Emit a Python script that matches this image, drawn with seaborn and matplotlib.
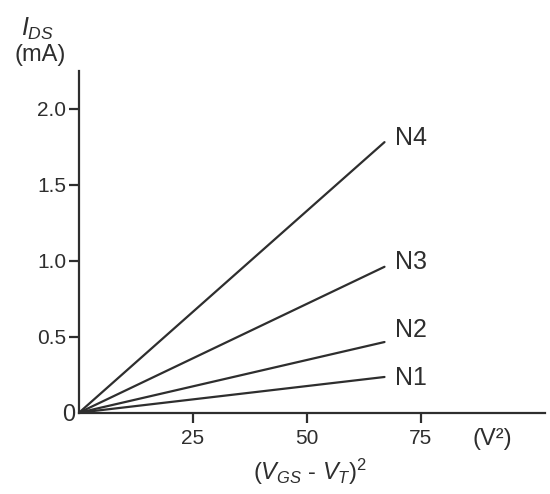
import pandas as pd
import matplotlib
matplotlib.use('Agg')
import matplotlib.pyplot as plt
import seaborn as sns

# device curves: I_DS vs (V_GS - V_T)^2, straight lines from origin
devices = ['N1', 'N2', 'N3', 'N4']
vov_sq = [0, 67]                      # (V^2)
ids_end = [0.235, 0.465, 0.96, 1.78]  # mA at the end of each line
x_ticks = [25, 50, 75]
y_ticks = [0, 0.5, 1.0, 1.5, 2.0]
y_ticklabels = ['0', '0.5', '1.0', '1.5', '2.0']

rows = []
for name, end in zip(devices, ids_end):
    rows.append({'device': name, 'vov2': vov_sq[0], 'ids': 0.0})
    rows.append({'device': name, 'vov2': vov_sq[1], 'ids': end})
df = pd.DataFrame(rows)

sns.set_style('ticks')
plt.rcParams['font.family'] = ['Liberation Sans', 'DejaVu Sans']
plt.rcParams['mathtext.fontset'] = 'custom'
plt.rcParams['mathtext.rm'] = 'Liberation Sans'
plt.rcParams['mathtext.it'] = 'Liberation Sans:italic'

ink = '#2e2e2e'

fig = plt.figure(figsize=(5.5, 4.94), dpi=100)
ax = fig.add_axes([79 / 550, (494 - 412.7) / 494, (545 - 79) / 550, (412.7 - 71) / 494])

sns.lineplot(data=df, x='vov2', y='ids', units='device', estimator=None,
             color=ink, linewidth=1.6, ax=ax, legend=False)

# curve labels, nudged next to the line ends
nudge = {'N1': -0.01, 'N2': 0.08, 'N3': 0.03, 'N4': 0.03}
for name, end in zip(devices, ids_end):
    ax.text(vov_sq[1] + 2.3, end + nudge[name], name, ha='left', va='center',
            fontsize=18, color=ink)

ax.set_xlim(0, 102.2)
ax.set_ylim(0, 2.248)
ax.set_xticks(x_ticks)
ax.set_xticklabels([str(t) for t in x_ticks])
ax.set_yticks(y_ticks)
ax.set_yticklabels(y_ticklabels)
ax.tick_params(axis='both', direction='out', length=7, width=1.6, color=ink,
               labelsize=15, labelcolor=ink, pad=5)
ax.tick_params(axis='y', pad=2)
zero_tick = ax.yaxis.get_major_ticks()[0]
zero_tick.tick1line.set_visible(False)
zero_tick.set_pad(-4)
zero_tick.label1.set_fontsize(17)

sns.despine(ax=ax)
for side in ['left', 'bottom']:
    ax.spines[side].set_color(ink)
    ax.spines[side].set_linewidth(1.6)
ax.set_xlabel('')
ax.set_ylabel('')

fig.text(38 / 550, 1 - 29 / 494, r'$I_{DS}$', ha='center', va='center',
         fontsize=18, color=ink)
fig.text(40 / 550, 1 - 55 / 494, '(mA)', ha='center', va='center',
         fontsize=17, color=ink)
fig.text(492 / 550, 1 - 439 / 494, '(V²)', ha='center', va='center',
         fontsize=17, color=ink)
fig.text(310 / 550, 1 - 472 / 494, r'($V_{GS}$ - $V_{T}$)$^{2}$', ha='center',
         va='center', fontsize=17, color=ink)

fig.savefig('out.png', dpi=100, facecolor='white')
